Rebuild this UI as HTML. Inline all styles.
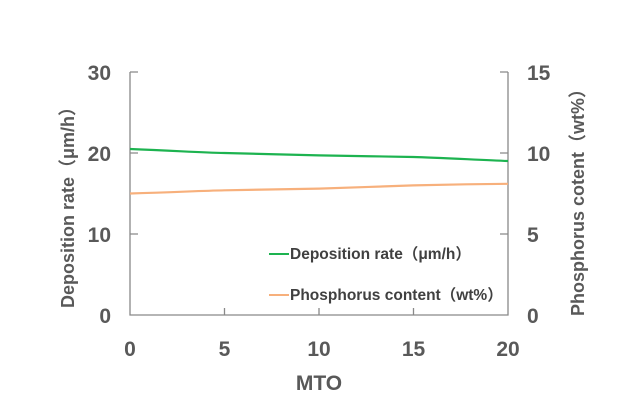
<!DOCTYPE html>
<html><head><meta charset="utf-8"><style>
html,body{margin:0;padding:0;background:#fff;}
svg{display:block;}
text{font-family:"Liberation Sans","Noto Sans CJK SC",sans-serif;}
</style></head><body>
<svg width="640" height="418" viewBox="0 0 640 418" xmlns="http://www.w3.org/2000/svg">
<g stroke="#898989" stroke-width="1.3" fill="none">
<path d="M130,72 V315 H508 V72"/>
<path d="M130,72 h8 M130,153 h8 M130,234 h8"/>
<path d="M508,72 h-8 M508,153 h-8 M508,234 h-8"/>
<path d="M224.5,315 v-7 M319,315 v-7 M413.5,315 v-7"/>
</g>
<path d="M130,149 C180,151 200,152.5 224.5,153 S300,155 319,155.4 S390,156.5 413.5,157 S480,160 508,161" stroke="#1db350" stroke-width="2.2" fill="none"/>
<path d="M130,193.5 C180,192 200,190.8 224.5,190.3 S300,189 319,188.6 S390,186 413.5,185.4 S480,184 508,183.8" stroke="#f7b07c" stroke-width="2.2" fill="none"/>
<g font-size="21" font-weight="bold" fill="#595959">
<g text-anchor="end">
<text x="111" y="80">30</text><text x="111" y="161">20</text><text x="111" y="242">10</text><text x="111" y="323">0</text>
</g>
<g text-anchor="start">
<text x="527" y="80">15</text><text x="527" y="161">10</text><text x="527" y="242">5</text><text x="527" y="323">0</text>
</g>
<g text-anchor="middle">
<text x="130" y="356">0</text><text x="224.5" y="356">5</text><text x="319" y="356">10</text><text x="413.5" y="356">15</text><text x="508" y="356">20</text>
<text x="319" y="390">MTO</text>
</g>
</g>
<g font-size="18" font-weight="bold" fill="#595959" text-anchor="middle">
<text transform="translate(74,203) rotate(-90)">Deposition rate（μm/h）</text>
<text transform="translate(584,198) rotate(-90)">Phosphorus cotent（wt%）</text>
</g>
<line x1="269" y1="254" x2="289" y2="254" stroke="#1db350" stroke-width="2"/>
<line x1="269" y1="295" x2="289" y2="295" stroke="#f7b07c" stroke-width="2"/>
<g font-size="15.5" font-weight="bold" fill="#404040">
<text x="290" y="259">Deposition rate（μm/h）</text>
<text x="290" y="300">Phosphorus content（wt%）</text>
</g>
</svg>
</body></html>
